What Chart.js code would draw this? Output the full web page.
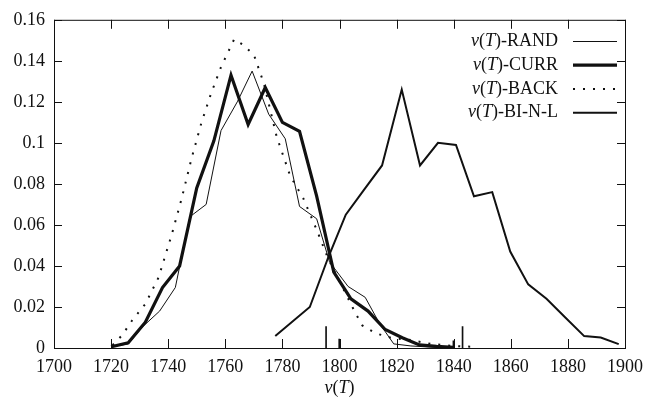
<!DOCTYPE html>
<html>
<head>
<meta charset="utf-8">
<script src="https://cdn.jsdelivr.net/npm/chart.js@4.4.0/dist/chart.umd.min.js"></script>
<style>
  html, body { margin: 0; padding: 0; background: #fff; }
</style>
</head>
<body>
<canvas id="chart" width="651" height="404"></canvas>
<script>
// series names (legend order)
const seriesLabels = ["v(T)-RAND", "v(T)-CURR", "v(T)-BACK", "v(T)-BI-N-L"];

// v(T)-RAND
const randYears = [1720, 1726, 1731, 1737, 1742.5, 1747.6, 1753.3, 1758.5, 1764.2, 1769.4, 1775.2, 1781, 1786, 1792, 1796.5, 1803, 1809, 1814, 1819, 1825, 1831, 1838];
const randValues = [0.0006, 0.002, 0.0103, 0.018, 0.0295, 0.064, 0.070, 0.106, 0.120, 0.135, 0.114, 0.102, 0.069, 0.063, 0.042, 0.030, 0.0247, 0.012, 0.002, 0.001, 0.0005, 0];

// v(T)-CURR
const currYears = [1720, 1726, 1732, 1738, 1744, 1750, 1756, 1762, 1768, 1774, 1780, 1786, 1792, 1798, 1804, 1810, 1816, 1822, 1828, 1834, 1840];
const currValues = [0.0006, 0.0025, 0.0126, 0.0295, 0.040, 0.078, 0.101, 0.133, 0.109, 0.127, 0.110, 0.1056, 0.074, 0.037, 0.024, 0.018, 0.009, 0.005, 0.0015, 0.0008, 0.0003];

// v(T)-BACK
const backYears = [1720.5, 1723.9, 1727.4, 1732, 1736.6, 1741.2, 1744.7, 1748.1, 1751.6, 1755, 1758.5, 1763.1, 1766, 1770, 1773.5, 1778, 1782.7, 1787.3, 1791.9, 1795.9, 1801.1, 1805.7, 1808, 1812.6, 1818, 1825.3, 1832, 1840, 1848];
const backValues = [0.0014, 0.0063, 0.0135, 0.0215, 0.0343, 0.0551, 0.0728, 0.092, 0.1096, 0.124, 0.137, 0.1505, 0.148, 0.143, 0.129, 0.103, 0.084, 0.073, 0.058, 0.044, 0.0295, 0.0167, 0.011, 0.0072, 0.005, 0.0038, 0.002, 0.001, 0.0005];

// v(T)-BI-N-L
const binlYears = [1777.5, 1789.6, 1796, 1802.2, 1808.5, 1814.9, 1821.8, 1828.2, 1834.5, 1840.8, 1847.1, 1853.5, 1859.8, 1866.1, 1872.5, 1879, 1885.7, 1891.5, 1897.8];
const binlValues = [0.0058, 0.020, 0.044, 0.065, 0.077, 0.089, 0.126, 0.089, 0.100, 0.099, 0.074, 0.076, 0.047, 0.031, 0.024, 0.015, 0.0058, 0.0051, 0.0019];

// small impulse marks on the baseline
const spikeYears = [1795.3, 1799.9, 1839.9, 1843.1];
const spikeValues = [0.0105, 0.0043, 0.0035, 0.0105];

// axis ticks
const xTicks = [1700, 1720, 1740, 1760, 1780, 1800, 1820, 1840, 1860, 1880, 1900];
const xTickLabels = ["1700", "1720", "1740", "1760", "1780", "1800", "1820", "1840", "1860", "1880", "1900"];
const yTicks = [0, 0.02, 0.04, 0.06, 0.08, 0.1, 0.12, 0.14, 0.16];
const yTickLabels = ["0", "0.02", "0.04", "0.06", "0.08", "0.1", "0.12", "0.14", "0.16"];

const INK = "#111";
const SERIF = "'Liberation Serif', 'DejaVu Serif', serif";

function pts(xs, ys) {
  return xs.map((x, i) => ({ x: x, y: ys[i] }));
}

// draws "v(T)..." with v and T in italics
function drawVT(ctx, label, x, y, align) {
  const rest = label.slice(4);
  const parts = [["v", true], ["(", false], ["T", true], [")" + rest, false]];
  let total = 0;
  parts.forEach(p => {
    ctx.font = (p[1] ? "italic " : "") + "18px " + SERIF;
    total += ctx.measureText(p[0]).width;
  });
  let cx = align === "right" ? x - total : x - total / 2;
  parts.forEach(p => {
    ctx.font = (p[1] ? "italic " : "") + "18px " + SERIF;
    ctx.fillText(p[0], cx, y);
    cx += ctx.measureText(p[0]).width;
  });
}

const framePlugin = {
  id: "frame",
  afterDraw(chart) {
    const { ctx, chartArea: a } = chart;
    const xs = chart.scales.x, ys = chart.scales.y;
    ctx.save();
    ctx.strokeStyle = INK;
    ctx.lineWidth = 1;
    ctx.setLineDash([]);
    ctx.strokeRect(a.left + 0.5, a.top + 0.5, a.right - a.left, a.bottom - a.top);
    ctx.beginPath();
    xTicks.forEach(v => {
      const px = Math.round(xs.getPixelForValue(v)) + 0.5;
      ctx.moveTo(px, a.bottom); ctx.lineTo(px, a.bottom - 9);
      ctx.moveTo(px, a.top); ctx.lineTo(px, a.top + 9);
    });
    yTicks.forEach(v => {
      const py = Math.round(ys.getPixelForValue(v)) + 0.5;
      ctx.moveTo(a.left, py); ctx.lineTo(a.left + 8, py);
      ctx.moveTo(a.right, py); ctx.lineTo(a.right - 8, py);
    });
    ctx.stroke();

    // legend
    ctx.fillStyle = INK;
    ctx.textBaseline = "middle";
    const rowY = [41.5, 65.2, 89, 112.7];
    chart.data.datasets.slice(0, 4).forEach((ds, i) => {
      drawVT(ctx, ds.label, 558, rowY[i], "right");
      ctx.beginPath();
      ctx.lineWidth = ds.borderWidth;
      ctx.setLineDash(ds.borderDash || []);
      ctx.moveTo(573, rowY[i]);
      ctx.lineTo(617, rowY[i]);
      ctx.stroke();
    });
    ctx.setLineDash([]);

    // x axis title
    drawVT(ctx, "v(T)", (a.left + a.right) / 2, 388, "center");
    ctx.restore();
  }
};

const lineStyle = { borderColor: INK, pointRadius: 0, tension: 0, fill: false };

new Chart(document.getElementById("chart"), {
  type: "line",
  data: {
    datasets: [
      Object.assign({ label: seriesLabels[0], data: pts(randYears, randValues), borderWidth: 1 }, lineStyle),
      Object.assign({ label: seriesLabels[1], data: pts(currYears, currValues), borderWidth: 3.2 }, lineStyle),
      Object.assign({ label: seriesLabels[2], data: pts(backYears, backValues), borderWidth: 2, borderDash: [2, 8] }, lineStyle),
      Object.assign({ label: seriesLabels[3], data: pts(binlYears, binlValues), borderWidth: 2 }, lineStyle),
      { type: "bar", label: "spikes", data: pts(spikeYears, spikeValues), backgroundColor: INK, barThickness: 1 }
    ]
  },
  options: {
    responsive: false,
    animation: false,
    devicePixelRatio: 1,
    layout: { padding: { top: 15, right: 18, left: 0, bottom: 0 } },
    plugins: { legend: { display: false }, tooltip: { enabled: false } },
    scales: {
      x: {
        type: "linear",
        min: 1700,
        max: 1900,
        offset: false,
        grid: { display: false, drawTicks: false },
        border: { display: false },
        afterBuildTicks: s => { s.ticks = xTicks.map(v => ({ value: v })); },
        afterFit: s => { s.height = 56; },
        ticks: {
          padding: 8,
          maxRotation: 0,
          autoSkip: false,
          color: INK,
          font: { family: SERIF, size: 18 },
          callback: (v, i) => xTickLabels[i]
        }
      },
      y: {
        min: 0,
        max: 0.16,
        grid: { display: false, drawTicks: false },
        border: { display: false },
        afterBuildTicks: s => { s.ticks = yTicks.map(v => ({ value: v })); },
        afterFit: s => { s.width = 54; },
        ticks: {
          padding: 9,
          autoSkip: false,
          color: INK,
          font: { family: SERIF, size: 18 },
          callback: (v, i) => yTickLabels[i]
        }
      }
    }
  },
  plugins: [framePlugin]
});
</script>
</body>
</html>
